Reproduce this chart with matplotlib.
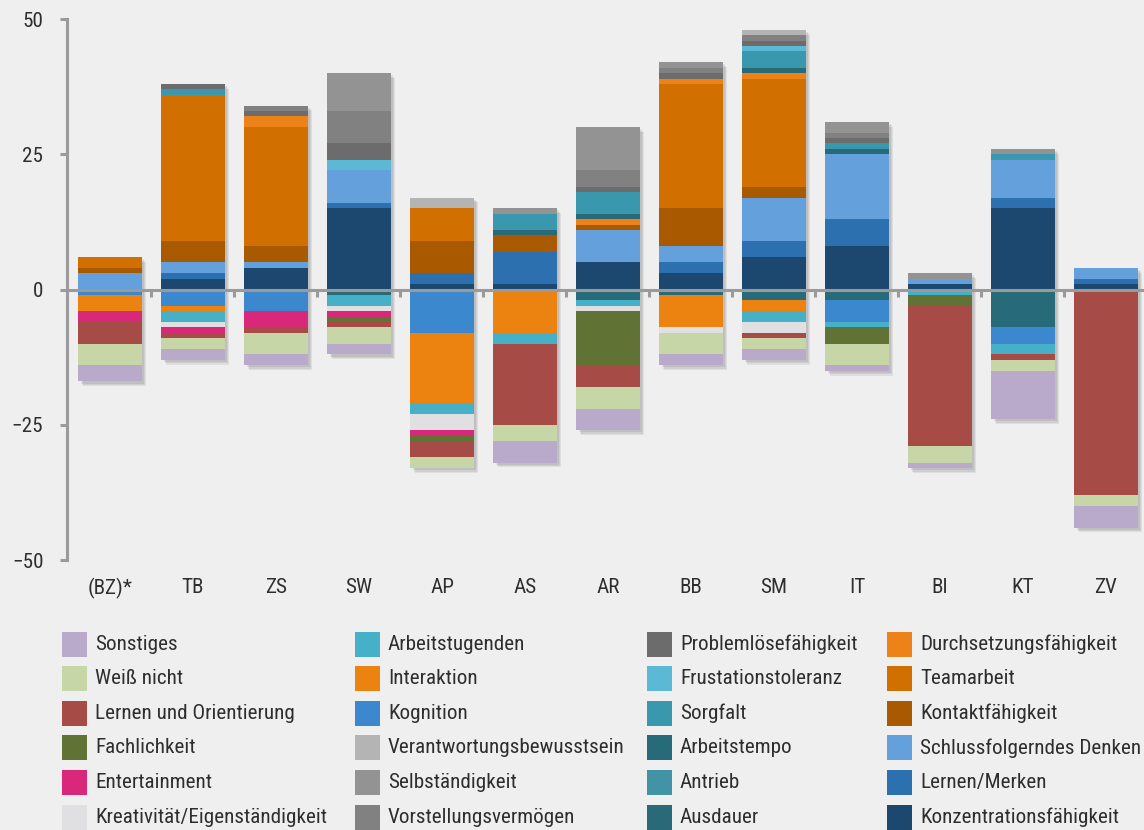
import numpy as np
import matplotlib
matplotlib.use("Agg")
import matplotlib.pyplot as plt
import matplotlib.patheffects as pe
from matplotlib import font_manager
from matplotlib.patches import Rectangle

berufe = ["(BZ)*", "TB", "ZS", "SW", "AP", "AS", "AR", "BB", "SM", "IT", "BI", "KT", "ZV"]

# werte je kategorie (positiv = oben, negativ = unten), reihenfolge wie berufe
sonstiges        = [-3, -2, -2, -2, 0, -4, -4, -2, -2, -1, -1, -9, -4]
weiss_nicht      = [-4, -2, -4, -3, -2, -3, -4, -4, -2, -4, -3, -2, -2]
lernen_orient    = [-4, -1, -1, -1, -3, -15, -4, 0, -1, 0, -26, -1, -38]
fachlichkeit     = [0, 0, 0, -1, -1, 0, -10, 0, 0, -3, -2, 0, 0]
entertainment    = [-2, -1, -3, -1, -1, 0, 0, 0, 0, 0, 0, 0, 0]
kreativitaet     = [0, -1, 0, -1, -3, 0, -1, -1, -2, 0, 0, 0, 0]
arbeitstugenden  = [0, -2, 0, -2, -2, -2, -1, 0, -2, -1, -1, -2, 0]
interaktion      = [-3, -1, 0, 0, -13, -8, 0, -6, -2, 0, 0, 0, 0]
kognition        = [-1, -3, -4, 0, -8, 0, 0, 0, 0, -4, 0, -3, 0]
verantwortung    = [0, 0, 0, 0, 2, 0, 0, 0, 1, 0, 0, 0, 0]
selbstaendigkeit = [0, 0, 0, 7, 0, 1, 8, 1, 0, 2, 1, 1, 0]
vorstellung      = [0, 0, 1, 6, 0, 0, 3, 1, 1, 1, 0, 0, 0]
problemloesen    = [0, 1, 1, 3, 0, 0, 1, 1, 1, 1, 0, 0, 0]
frustration      = [0, 0, 0, 2, 0, 0, 0, 0, 1, 0, 0, 0, 0]
sorgfalt         = [0, 1, 0, 0, 0, 3, 4, 0, 3, 1, 0, 1, 0]
arbeitstempo     = [0, 0, 0, -1, 0, 0, -2, -1, -2, -2, 0, -7, 0]
antrieb          = [0, 0, 0, 0, 0, 0, 0, 0, 0, 0, 0, 0, 0]
ausdauer         = [0, 0, 0, 0, 0, 1, 1, 0, 1, 1, 0, 0, 0]
durchsetzung     = [0, 0, 2, 0, 0, 0, 1, 1, 1, 0, 0, 0, 0]
teamarbeit       = [2, 27, 22, 0, 6, 0, 0, 23, 20, 0, 0, 0, 0]
kontakt          = [1, 4, 3, 0, 6, 3, 1, 7, 2, 0, 0, 0, 0]
schlussfolgern   = [3, 2, 1, 6, 0, 0, 6, 3, 8, 12, 1, 7, 2]
lernen_merken    = [0, 1, 0, 1, 2, 6, 0, 2, 3, 5, 0, 2, 1]
konzentration    = [0, 2, 4, 15, 1, 1, 5, 3, 6, 8, 1, 15, 1]

# legendenreihenfolge (spaltenweise), gestapelt wird umgekehrt
serien = [
    ("Sonstiges", "#b9aacb", sonstiges),
    ("Weiß nicht", "#c6d6a6", weiss_nicht),
    ("Lernen und Orientierung", "#a64b45", lernen_orient),
    ("Fachlichkeit", "#617235", fachlichkeit),
    ("Entertainment", "#d9277a", entertainment),
    ("Kreativität/Eigenständigkeit", "#e0e0e2", kreativitaet),
    ("Arbeitstugenden", "#45b0c7", arbeitstugenden),
    ("Interaktion", "#ec8210", interaktion),
    ("Kognition", "#3b88cf", kognition),
    ("Verantwortungsbewusstsein", "#b4b4b4", verantwortung),
    ("Selbständigkeit", "#939393", selbstaendigkeit),
    ("Vorstellungsvermögen", "#818181", vorstellung),
    ("Problemlösefähigkeit", "#6c6c6c", problemloesen),
    ("Frustationstoleranz", "#5bb9d6", frustration),
    ("Sorgfalt", "#3a98ae", sorgfalt),
    ("Arbeitstempo", "#276b7a", arbeitstempo),
    ("Antrieb", "#4293a5", antrieb),
    ("Ausdauer", "#2a6a78", ausdauer),
    ("Durchsetzungsfähigkeit", "#ec8218", durchsetzung),
    ("Teamarbeit", "#d17000", teamarbeit),
    ("Kontaktfähigkeit", "#a95a00", kontakt),
    ("Schlussfolgerndes Denken", "#64a1dc", schlussfolgern),
    ("Lernen/Merken", "#2d70b0", lernen_merken),
    ("Konzentrationsfähigkeit", "#1c4870", konzentration),
]

# schrift: schmale familie wenn vorhanden
names = {f.name for f in font_manager.fontManager.ttflist}
if "Roboto Condensed" in names:
    FONT, FS = "Roboto Condensed", 15.2
elif "Liberation Sans Narrow" in names:
    FONT, FS = "Liberation Sans Narrow", 15
else:
    FONT, FS = "Roboto", 12.5
plt.rcParams["font.family"] = [FONT, "DejaVu Sans"]

BG = "#efefef"
AXC = "#9a9a9a"
TXT = "#2e2e2e"
W, H = 1144, 830

fig = plt.figure(figsize=(W / 100, H / 100), dpi=100, facecolor=BG)
ax = fig.add_axes([67 / W, 1 - 560 / H, (W - 67) / W, (560 - 19) / H])
ax.set_facecolor(BG)

x = np.arange(len(berufe))
breite = 0.76
pos_cum = np.zeros(len(berufe))
neg_cum = np.zeros(len(berufe))

for name, farbe, werte in serien[::-1]:
    v = np.array(werte, dtype=float)
    unten = np.where(v >= 0, pos_cum, neg_cum)
    ax.bar(x, v, bottom=unten, width=breite, color=farbe, linewidth=0, zorder=1)
    pos_cum += np.clip(v, 0, None)
    neg_cum += np.clip(v, None, 0)

# weicher schatten hinter den balken
schatten = [pe.SimplePatchShadow(offset=(d, -d), shadow_rgbFace="k", alpha=0.07)
            for d in (3.5, 2.5, 1.5)]
ax.bar(x, pos_cum - neg_cum, bottom=neg_cum, width=breite, color=BG, linewidth=0, zorder=0.5,
       path_effects=schatten + [pe.Normal()])

ax.set_xlim(-0.518, 12.458)
ax.set_ylim(-50, 50)
ax.set_yticks([-50, -25, 0, 25, 50])
ax.set_yticklabels(["−50", "−25", "0", "25", "50"])

for s in ["top", "right"]:
    ax.spines[s].set_visible(False)
ax.spines["left"].set_color(AXC)
ax.spines["left"].set_linewidth(2.2)
ax.spines["bottom"].set_position(("data", 0))
ax.spines["bottom"].set_color(AXC)
ax.spines["bottom"].set_linewidth(2.2)

ax.set_xticks(x[:-1] + 0.5)
ax.set_xticklabels([])
ax.tick_params(axis="x", direction="out", length=5, width=2.2, color=AXC)
ax.tick_params(axis="y", direction="out", length=5, width=2.2, color=AXC,
               labelsize=FS, labelcolor=TXT, pad=12)

sec = ax.secondary_xaxis("bottom")
sec.set_xticks(x, berufe)
sec.tick_params(length=0, pad=13, labelsize=FS, labelcolor=TXT)
sec.spines["bottom"].set_visible(False)

# legende, vier spalten
spalten_x = [62, 355, 647, 887]
zeile0, zeilen_abstand = 644, 34.6
for i, (name, farbe, werte) in enumerate(serien):
    sp, zl = divmod(i, 6)
    cx = spalten_x[sp]
    cy = zeile0 + zl * zeilen_abstand
    fig.add_artist(Rectangle((cx / W, 1 - (cy + 12.5) / H), 25 / W, 25 / H,
                             transform=fig.transFigure, color=farbe, linewidth=0))
    fig.text((cx + 33) / W, 1 - cy / H, name, fontsize=FS, color=TXT,
             ha="left", va="center")

fig.savefig("out.png", dpi=100, facecolor=BG)
